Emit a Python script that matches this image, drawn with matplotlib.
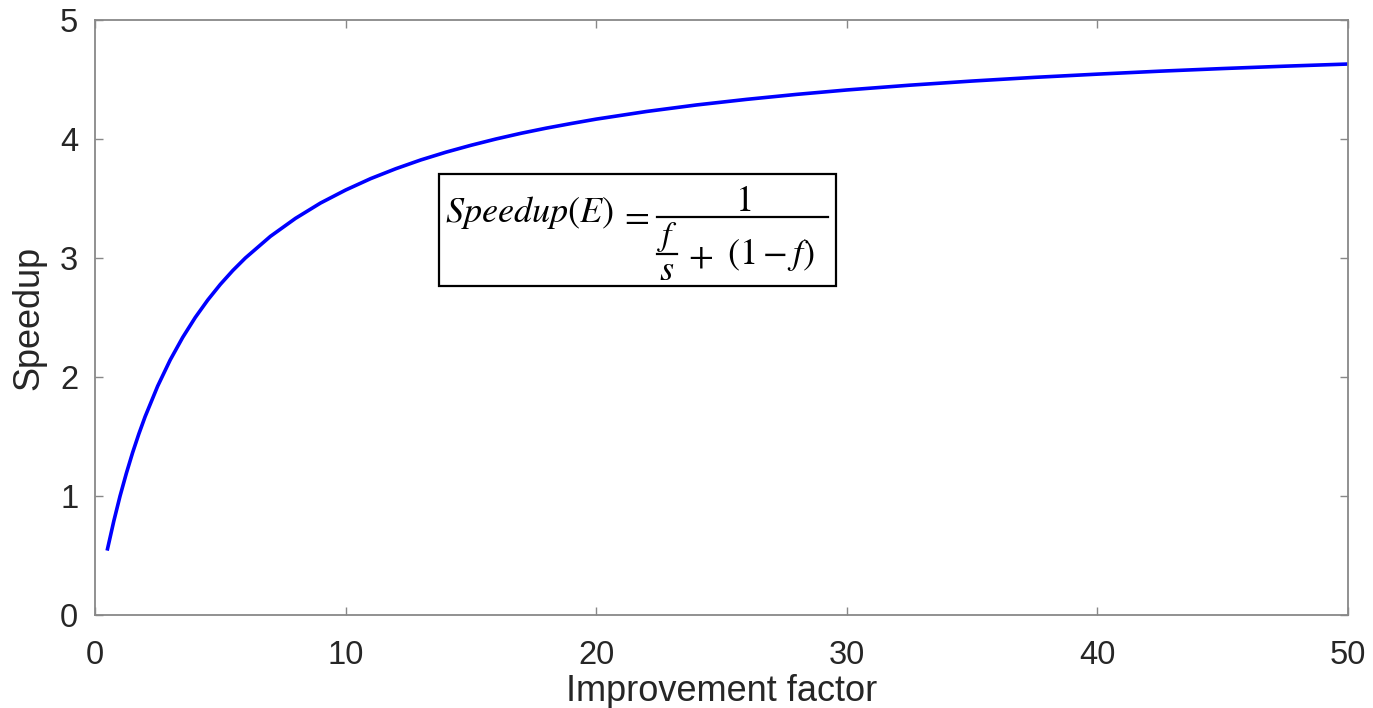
import matplotlib
matplotlib.use("Agg")
import matplotlib.pyplot as plt
from matplotlib.patches import Rectangle
from matplotlib.lines import Line2D

# Values
improvement = [0.5, 0.75, 1, 1.25, 1.5, 1.75, 2, 2.5, 3, 3.5, 4, 4.5, 5, 5.5, 6, 7, 8,
               9, 10, 11, 12, 13, 14, 15, 16, 17, 18, 19, 20, 22, 24, 26, 28, 30,
               32.5, 35, 37.5, 40, 42.5, 45, 47.5, 50]
speedup = [0.556, 0.789, 1.0, 1.19, 1.364, 1.522, 1.667, 1.923, 2.143, 2.333, 2.5,
           2.647, 2.778, 2.895, 3.0, 3.182, 3.333, 3.462, 3.571, 3.667, 3.75, 3.824,
           3.889, 3.947, 4.0, 4.048, 4.091, 4.13, 4.167, 4.231, 4.286, 4.333, 4.375,
           4.412, 4.452, 4.487, 4.518, 4.545, 4.57, 4.592, 4.612, 4.63]
xticks = [0, 10, 20, 30, 40, 50]
yticks = [0, 1, 2, 3, 4, 5]

plt.rcParams['font.family'] = ['Liberation Sans', 'DejaVu Sans']
plt.rcParams['mathtext.fontset'] = 'stix'

W, H = 1373, 708
fig = plt.figure(figsize=(W/100, H/100), dpi=100)


def P(x, y):
    return (x / W, 1 - y / H)


ax = fig.add_axes([95/W, 1-615/H, (1348-95)/W, (615-20)/H])
ax.plot(improvement, speedup, color='#0000ff', linewidth=2.6)
ax.set_xlim(0, 50)
ax.set_ylim(0, 5)
ax.set_xticks(xticks)
ax.set_yticks(yticks)
ax.tick_params(direction='in', top=True, right=True, length=6, width=1,
               color='#888888', labelcolor='#262626', labelsize=23.5)
ax.tick_params(axis='x', pad=18)
ax.tick_params(axis='y', pad=12)
for s in ax.spines.values():
    s.set_color('#888888')
    s.set_linewidth(1.3)
ax.set_xlabel('Improvement factor', fontsize=26, color='#262626', labelpad=2)
ax.set_ylabel('Speedup', fontsize=26, color='#262626', labelpad=10)

# Formula box
fig.patches.append(Rectangle(P(439, 286), (836-439)/W, (286-174)/H,
                             transform=fig.transFigure, facecolor='white',
                             edgecolor='black', linewidth=1.6, zorder=2))
fs = 26
fig.text(*P(445, 222), r'$Speedup(E)$', fontsize=fs, ha='left', va='baseline', zorder=3)
fig.text(*P(634, 217), r'$=$', fontsize=fs, ha='center', va='center', zorder=3)
fig.lines.append(Line2D([657/W, 828/W], [1-217/H, 1-217/H], transform=fig.transFigure,
                        color='black', linewidth=1.6, zorder=3))
fig.text(*P(743, 211), r'$1$', fontsize=fs, ha='center', va='baseline', zorder=3)
fig.text(*P(668, 245), r'$f$', fontsize=24, ha='center', va='baseline', zorder=3)
fig.lines.append(Line2D([657/W, 677/W], [1-254/H, 1-254/H], transform=fig.transFigure,
                        color='black', linewidth=1.6, zorder=3))
fig.text(*P(667, 280), r'$s$', fontsize=fs, ha='center', va='baseline', zorder=3)
fig.text(*P(700, 257), r'$+$', fontsize=fs, ha='center', va='center', zorder=3)
fig.text(*P(727, 264), r'$(1-f)$', fontsize=fs, ha='left', va='baseline', zorder=3)

fig.savefig('out.png', dpi=100)
